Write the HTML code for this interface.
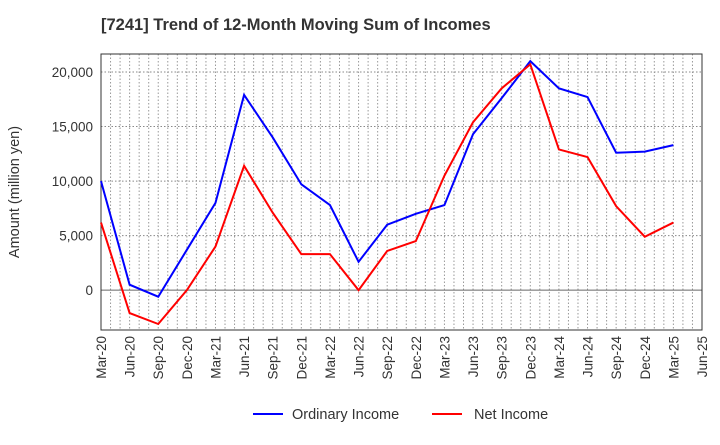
<!DOCTYPE html>
<html><head><meta charset="utf-8"><style>
body{margin:0;background:#fff;font-family:"Liberation Sans",sans-serif}
</style></head><body>
<svg id="c" width="720" height="440" xmlns="http://www.w3.org/2000/svg">
<text x="101" y="30" font-size="16.5" font-weight="bold" fill="#333">[7241]  Trend of 12-Month Moving Sum of Incomes</text>
<text transform="translate(19,192) rotate(-90)" text-anchor="middle" font-size="14.5" fill="#333">Amount (million yen)</text>
<g id="grid"></g><g id="axes"></g><g id="series"></g>
<g>
<line x1="253" y1="414" x2="283" y2="414" stroke="#0000ff" stroke-width="2"/>
<text x="292" y="419" font-size="14.5" fill="#333">Ordinary Income</text>
<line x1="432" y1="414" x2="462" y2="414" stroke="#ff0000" stroke-width="2"/>
<text x="474" y="419" font-size="14.5" fill="#333">Net Income</text>
</g>
</svg>
<script>
const categories=["Mar-20","Jun-20","Sep-20","Dec-20","Mar-21","Jun-21","Sep-21","Dec-21","Mar-22","Jun-22","Sep-22","Dec-22","Mar-23","Jun-23","Sep-23","Dec-23","Mar-24","Jun-24","Sep-24","Dec-24","Mar-25","Jun-25"];
const ordinaryIncome=[10000,500,-600,3700,8000,17900,14000,9700,7800,2600,6000,7000,7800,14300,17600,21000,18500,17700,12600,12700,13300];
const netIncome=[6200,-2100,-3100,0,4000,11400,7100,3300,3300,0,3600,4500,10500,15400,18500,20700,12900,12200,7700,4900,6200];
const yTicks=[0,5000,10000,15000,20000];
const L=101,R=702,T=54,B=330,yMin=-3650,yMax=21650;
const ns="http://www.w3.org/2000/svg";
const X=i=>L+(R-L)*i/(categories.length-1);
const Y=v=>B-(v-yMin)/(yMax-yMin)*(B-T);
function mk(p,t,a){const e=document.createElementNS(ns,t);for(const k in a)e.setAttribute(k,a[k]);p.appendChild(e);return e;}
const g=document.getElementById('grid'),ax=document.getElementById('axes'),s=document.getElementById('series');
for(let m=1;m<(categories.length-1)*3;m++){const x=L+(R-L)*m/((categories.length-1)*3);
const l=mk(g,'line',{x1:x,x2:x,y1:T,y2:B,stroke:'#999','stroke-dasharray':'1.5,2','stroke-width':1});

}
yTicks.forEach(v=>{const y=Y(v);
const l=mk(g,'line',{x1:L,x2:R,y1:y,y2:y,stroke:v===0?'#666':'#888','stroke-dasharray':v===0?'':'1.5,2','stroke-width':1});


const t=mk(ax,'text',{x:L-8,y:y+5,'text-anchor':'end','font-size':13.5,fill:'#333'});t.textContent=v.toLocaleString('en-US');

});
const fr=mk(ax,'rect',{x:L,y:T,width:R-L,height:B-T,fill:'none',stroke:'#333','stroke-width':1});


categories.forEach((c,i)=>{const t=mk(ax,'text',{transform:`translate(${X(i)+5},${B+6}) rotate(-90)`,'text-anchor':'end','font-size':13.5,fill:'#333'});t.textContent=c;

});
function line(d,col,name){const p=mk(s,'polyline',{points:d.map((v,i)=>X(i)+','+Y(v)).join(' '),fill:'none',stroke:col,'stroke-width':2});

}
line(ordinaryIncome,'#0000ff','ordinary-income-line');
line(netIncome,'#ff0000','net-income-line');
</script>
</body></html>
